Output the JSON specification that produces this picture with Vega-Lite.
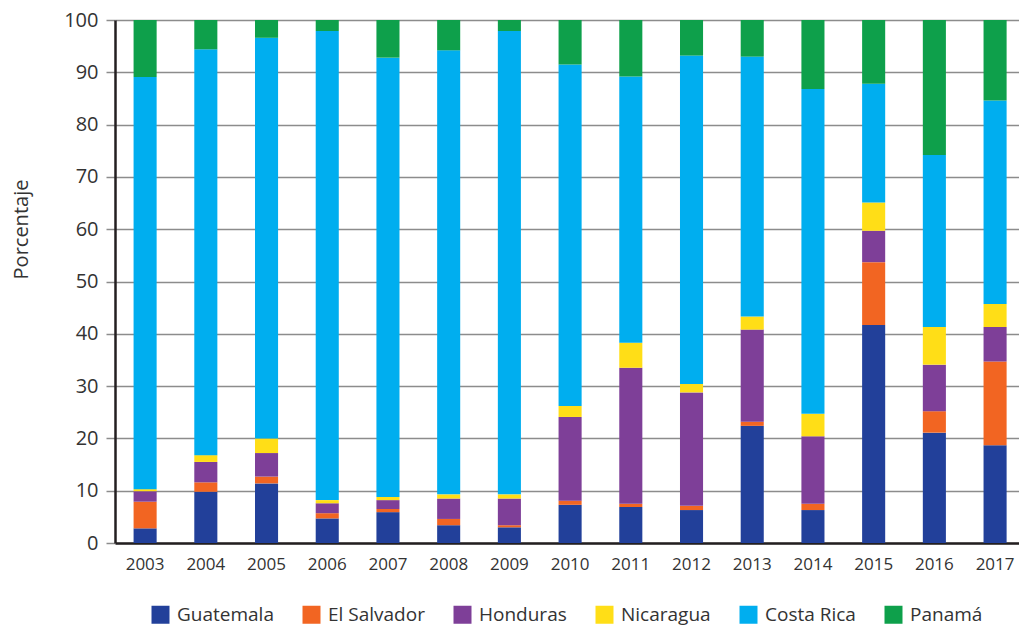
{
  "$schema": "https://vega.github.io/schema/vega-lite/v6.json",
  "width": 904,
  "height": 523,
  "autosize": {"type": "none"},
  "padding": {"left": 115, "top": 20, "right": 0, "bottom": 84},
  "background": "white",
  "config": {
    "view": {"stroke": null},
    "font": "Open Sans"
  },
  "datasets": {
    "countries": [
      {"country": "Guatemala", "stackRank": 1},
      {"country": "El Salvador", "stackRank": 2},
      {"country": "Honduras", "stackRank": 3},
      {"country": "Nicaragua", "stackRank": 4},
      {"country": "Costa Rica", "stackRank": 5},
      {"country": "Panamá", "stackRank": 6}
    ],
    "shares": [
      {"year": "2003", "country": "Guatemala", "value": 2.8},
      {"year": "2003", "country": "El Salvador", "value": 5.1},
      {"year": "2003", "country": "Honduras", "value": 2.0},
      {"year": "2003", "country": "Nicaragua", "value": 0.4},
      {"year": "2003", "country": "Costa Rica", "value": 78.8},
      {"year": "2003", "country": "Panamá", "value": 10.9},
      {"year": "2004", "country": "Guatemala", "value": 9.8},
      {"year": "2004", "country": "El Salvador", "value": 1.8},
      {"year": "2004", "country": "Honduras", "value": 3.9},
      {"year": "2004", "country": "Nicaragua", "value": 1.3},
      {"year": "2004", "country": "Costa Rica", "value": 77.6},
      {"year": "2004", "country": "Panamá", "value": 5.6},
      {"year": "2005", "country": "Guatemala", "value": 11.4},
      {"year": "2005", "country": "El Salvador", "value": 1.3},
      {"year": "2005", "country": "Honduras", "value": 4.5},
      {"year": "2005", "country": "Nicaragua", "value": 2.8},
      {"year": "2005", "country": "Costa Rica", "value": 76.6},
      {"year": "2005", "country": "Panamá", "value": 3.4},
      {"year": "2006", "country": "Guatemala", "value": 4.7},
      {"year": "2006", "country": "El Salvador", "value": 1.0},
      {"year": "2006", "country": "Honduras", "value": 1.9},
      {"year": "2006", "country": "Nicaragua", "value": 0.6},
      {"year": "2006", "country": "Costa Rica", "value": 89.7},
      {"year": "2006", "country": "Panamá", "value": 2.1},
      {"year": "2007", "country": "Guatemala", "value": 5.9},
      {"year": "2007", "country": "El Salvador", "value": 0.6},
      {"year": "2007", "country": "Honduras", "value": 1.7},
      {"year": "2007", "country": "Nicaragua", "value": 0.6},
      {"year": "2007", "country": "Costa Rica", "value": 84.0},
      {"year": "2007", "country": "Panamá", "value": 7.2},
      {"year": "2008", "country": "Guatemala", "value": 3.4},
      {"year": "2008", "country": "El Salvador", "value": 1.2},
      {"year": "2008", "country": "Honduras", "value": 3.9},
      {"year": "2008", "country": "Nicaragua", "value": 0.8},
      {"year": "2008", "country": "Costa Rica", "value": 84.9},
      {"year": "2008", "country": "Panamá", "value": 5.8},
      {"year": "2009", "country": "Guatemala", "value": 3.0},
      {"year": "2009", "country": "El Salvador", "value": 0.4},
      {"year": "2009", "country": "Honduras", "value": 5.1},
      {"year": "2009", "country": "Nicaragua", "value": 0.8},
      {"year": "2009", "country": "Costa Rica", "value": 88.6},
      {"year": "2009", "country": "Panamá", "value": 2.1},
      {"year": "2010", "country": "Guatemala", "value": 7.3},
      {"year": "2010", "country": "El Salvador", "value": 0.8},
      {"year": "2010", "country": "Honduras", "value": 16.0},
      {"year": "2010", "country": "Nicaragua", "value": 2.1},
      {"year": "2010", "country": "Costa Rica", "value": 65.3},
      {"year": "2010", "country": "Panamá", "value": 8.5},
      {"year": "2011", "country": "Guatemala", "value": 6.9},
      {"year": "2011", "country": "El Salvador", "value": 0.6},
      {"year": "2011", "country": "Honduras", "value": 26.0},
      {"year": "2011", "country": "Nicaragua", "value": 4.8},
      {"year": "2011", "country": "Costa Rica", "value": 50.9},
      {"year": "2011", "country": "Panamá", "value": 10.8},
      {"year": "2012", "country": "Guatemala", "value": 6.3},
      {"year": "2012", "country": "El Salvador", "value": 0.8},
      {"year": "2012", "country": "Honduras", "value": 21.7},
      {"year": "2012", "country": "Nicaragua", "value": 1.6},
      {"year": "2012", "country": "Costa Rica", "value": 62.8},
      {"year": "2012", "country": "Panamá", "value": 6.8},
      {"year": "2013", "country": "Guatemala", "value": 22.4},
      {"year": "2013", "country": "El Salvador", "value": 0.8},
      {"year": "2013", "country": "Honduras", "value": 17.6},
      {"year": "2013", "country": "Nicaragua", "value": 2.5},
      {"year": "2013", "country": "Costa Rica", "value": 49.7},
      {"year": "2013", "country": "Panamá", "value": 7.0},
      {"year": "2014", "country": "Guatemala", "value": 6.3},
      {"year": "2014", "country": "El Salvador", "value": 1.2},
      {"year": "2014", "country": "Honduras", "value": 12.9},
      {"year": "2014", "country": "Nicaragua", "value": 4.3},
      {"year": "2014", "country": "Costa Rica", "value": 62.1},
      {"year": "2014", "country": "Panamá", "value": 13.2},
      {"year": "2015", "country": "Guatemala", "value": 41.7},
      {"year": "2015", "country": "El Salvador", "value": 12.0},
      {"year": "2015", "country": "Honduras", "value": 6.0},
      {"year": "2015", "country": "Nicaragua", "value": 5.4},
      {"year": "2015", "country": "Costa Rica", "value": 22.7},
      {"year": "2015", "country": "Panamá", "value": 12.2},
      {"year": "2016", "country": "Guatemala", "value": 21.1},
      {"year": "2016", "country": "El Salvador", "value": 4.1},
      {"year": "2016", "country": "Honduras", "value": 8.9},
      {"year": "2016", "country": "Nicaragua", "value": 7.2},
      {"year": "2016", "country": "Costa Rica", "value": 32.9},
      {"year": "2016", "country": "Panamá", "value": 25.8},
      {"year": "2017", "country": "Guatemala", "value": 18.7},
      {"year": "2017", "country": "El Salvador", "value": 16.0},
      {"year": "2017", "country": "Honduras", "value": 6.6},
      {"year": "2017", "country": "Nicaragua", "value": 4.4},
      {"year": "2017", "country": "Costa Rica", "value": 38.9},
      {"year": "2017", "country": "Panamá", "value": 15.4}
    ]
  },
  "data": {"name": "shares"},
  "transform": [
    {
      "lookup": "country",
      "from": {"data": {"name": "countries"}, "key": "country", "fields": ["stackRank"]}
    }
  ],
  "mark": {"type": "bar"},
  "encoding": {
    "x": {
      "field": "year",
      "type": "ordinal",
      "scale": {"paddingInner": 0.62, "paddingOuter": 0.255, "align": 0.6},
      "axis": {
        "title": null,
        "labelAngle": 0,
        "labelFontSize": 17,
        "labelColor": "#333333",
        "labelPadding": 13,
        "ticks": false,
        "domainColor": "#231f20",
        "domainWidth": 2.5,
        "grid": false
      }
    },
    "y": {
      "field": "value",
      "type": "quantitative",
      "stack": "zero",
      "scale": {"domain": [0, 100], "nice": false},
      "axis": {
        "title": "Porcentaje",
        "titleFontSize": 20,
        "titleFontWeight": "normal",
        "titleColor": "#333333",
        "titleAngle": -90,
        "titleAlign": "center",
        "titleBaseline": "alphabetic",
        "titleX": -88,
        "titleY": 209,
        "values": [0, 10, 20, 30, 40, 50, 60, 70, 80, 90, 100],
        "labelFontSize": 20,
        "labelColor": "#333333",
        "labelPadding": 8,
        "tickSize": 9,
        "tickColor": "#8c8c8c",
        "tickWidth": 1.5,
        "gridColor": "#8c8c8c",
        "gridWidth": 1.5,
        "domainColor": "#231f20",
        "domainWidth": 2.5,
        "zindex": 0
      }
    },
    "color": {
      "field": "country",
      "type": "nominal",
      "sort": ["Guatemala", "El Salvador", "Honduras", "Nicaragua", "Costa Rica", "Panamá"],
      "scale": {
        "domain": ["Guatemala", "El Salvador", "Honduras", "Nicaragua", "Costa Rica", "Panamá"],
        "range": ["#22409a", "#f26522", "#7e3f98", "#ffde17", "#00aeef", "#0ea04b"]
      },
      "legend": {
        "title": null,
        "orient": "none",
        "direction": "horizontal",
        "legendX": 36,
        "legendY": 585,
        "symbolType": "square",
        "symbolSize": 324,
        "symbolStrokeWidth": 0,
        "symbolOpacity": 1,
        "labelFontSize": 19,
        "labelColor": "#333333",
        "labelOffset": 7,
        "columnPadding": 28,
        "labelLimit": 300
      }
    },
    "order": {"field": "stackRank", "type": "quantitative", "sort": "ascending"}
  }
}
